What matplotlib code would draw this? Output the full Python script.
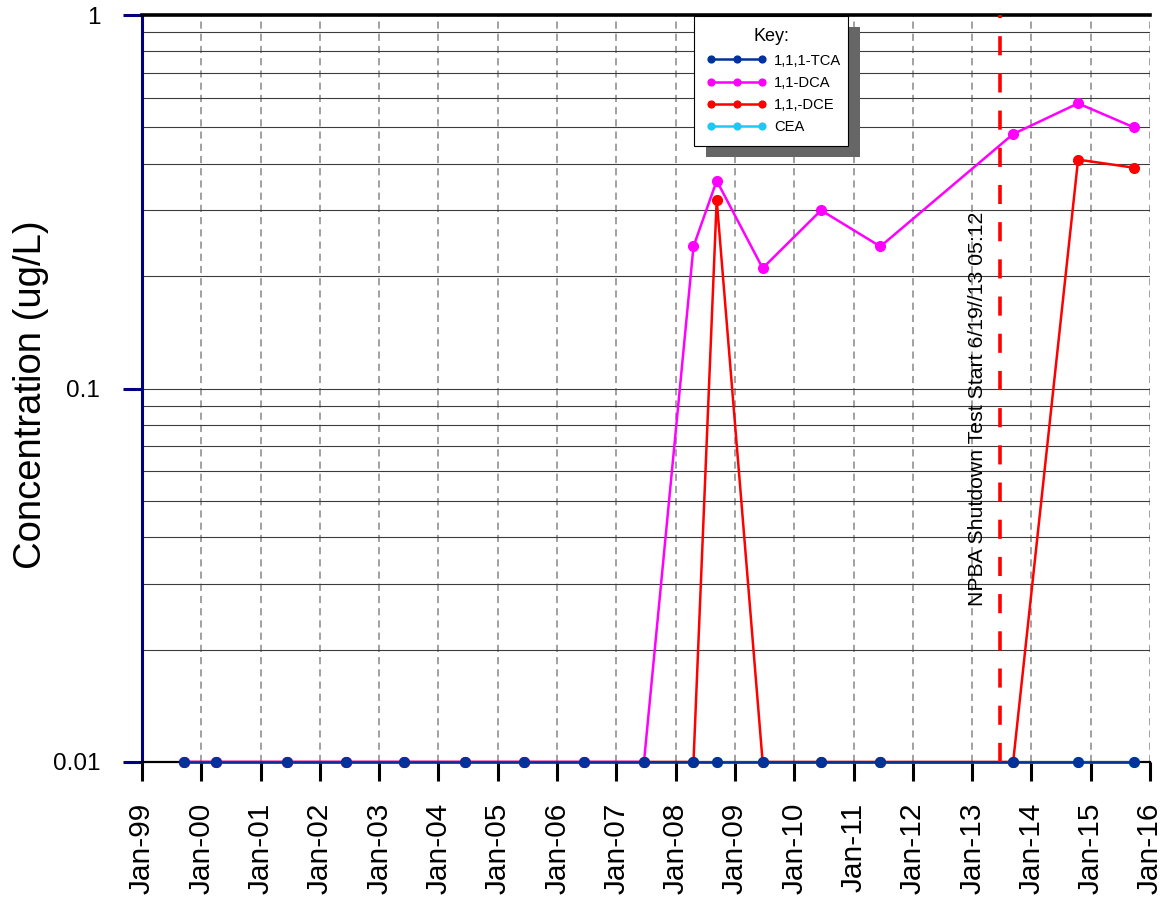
import matplotlib
matplotlib.use('Agg')
import matplotlib.pyplot as plt
import matplotlib.dates as mdates
from matplotlib.patches import Rectangle
from matplotlib.ticker import FixedLocator, NullFormatter
from datetime import datetime

plt.rcParams['font.family'] = ['Liberation Sans', 'DejaVu Sans']

# sample dates
dates = ['1999-09-15', '2000-04-01', '2001-06-15', '2002-06-10', '2003-06-05',
         '2004-06-10', '2005-06-10', '2006-06-15', '2007-06-20', '2008-04-20',
         '2008-09-10', '2009-06-20', '2010-06-15', '2011-06-15', '2013-09-10',
         '2014-10-15', '2015-09-25']

# concentrations in ug/L (0.01 = non-detect floor)
tca = [0.01] * 17
dca = [0.01, 0.01, 0.01, 0.01, 0.01, 0.01, 0.01, 0.01, 0.01, 0.24,
       0.36, 0.21, 0.30, 0.24, 0.48, 0.58, 0.50]
dce = [0.01, 0.01, 0.01, 0.01, 0.01, 0.01, 0.01, 0.01, 0.01, 0.01,
       0.32, 0.01, 0.01, 0.01, 0.01, 0.41, 0.39]
cea_dates = dates[9:]
cea = [0.01] * 8

shutdown_date = '2013-06-19 05:12'
shutdown_label = 'NPBA Shutdown Test Start 6/19//13 05:12'

to_dt = lambda lst: [datetime.fromisoformat(d) for d in lst]

fig = plt.figure(figsize=(11.65, 9.02), dpi=100)
ax = fig.add_axes([142 / 1165, 1 - 762 / 902, 1008 / 1165, 747 / 902])

ax.set_yscale('log')
ax.set_ylim(0.01, 1)
ax.set_xlim(datetime(1999, 1, 1), datetime(2016, 1, 1))

# grid: solid horizontal at every log step, dashed vertical at each year
ax.yaxis.set_major_locator(FixedLocator([0.01, 0.1, 1]))
minor = [m * 10.0 ** e for e in (-2, -1) for m in range(2, 10)]
ax.yaxis.set_minor_locator(FixedLocator(minor))
ax.yaxis.set_minor_formatter(NullFormatter())
ax.set_yticklabels(['0.01', '0.1', '1'])
ax.grid(True, axis='y', which='both', color='#3c3c3c', linewidth=0.8)
ax.tick_params(axis='y', which='minor', length=0)
ax.tick_params(axis='y', which='major', length=14, width=2.2, color='#000080',
               labelsize=17.5, pad=16)

ax.xaxis.set_major_locator(mdates.YearLocator())
ax.xaxis.set_major_formatter(mdates.DateFormatter('%b-%y'))
ax.grid(True, axis='x', color='#888888', linewidth=1.1, linestyle=(0, (4.7, 3.3)))
ax.tick_params(axis='x', length=14, width=2.2, color='black', labelsize=21.5,
               pad=15, labelrotation=90)
ax.set_axisbelow(True)

ax.spines['right'].set_visible(False)
ax.spines['top'].set_linewidth(2.6)
ax.spines['top'].set_color('black')
ax.spines['left'].set_linewidth(2.2)
ax.spines['left'].set_color('#000080')
ax.spines['bottom'].set_linewidth(1.6)
ax.spines['bottom'].set_color('black')

ax.set_ylabel('Concentration (ug/L)', fontsize=27.5)
ax.yaxis.set_label_coords(-0.092, 0.492)

# series
kw = dict(linewidth=1.8, marker='o', markersize=7, clip_on=False)
ax.plot(to_dt(cea_dates), cea, color='#1ec8f5', label='CEA', zorder=3, **kw)
ax.plot(to_dt(dates), dce, color='#ff0000', label='1,1,-DCE', zorder=4, **kw)
ax.plot(to_dt(dates), dca, color='#ff00ff', label='1,1-DCA', zorder=5, **kw)
ax.plot(to_dt(dates), tca, color='#003399', label='1,1,1-TCA', zorder=6, **kw)

# shutdown marker
sd = datetime.fromisoformat(shutdown_date)
ax.axvline(sd, color='#ff0000', linewidth=2.6, linestyle=(0, (5.3, 5.0)), zorder=6)
ax.annotate(shutdown_label, xy=(mdates.date2num(sd), 0.4726),
            xycoords=ax.get_xaxis_transform(),
            xytext=(-9, 0), textcoords='offset points', rotation=90,
            ha='right', va='center', fontsize=15.3)

# legend
handles, labels = ax.get_legend_handles_labels()
order = [3, 2, 1, 0]
leg = ax.legend([handles[i] for i in order], [labels[i] for i in order],
                title='Key:', title_fontsize=13, fontsize=10.6,
                loc='upper left', bbox_to_anchor=(0.5476, 0.9987, 0.1528, 0),
                mode='expand', borderaxespad=0, borderpad=0.85, numpoints=3,
                markerscale=0.7, handlelength=4.1, handletextpad=0.5,
                labelspacing=0.55, fancybox=False, framealpha=1, edgecolor='black')
leg.get_frame().set_linewidth(0.8)
leg.set_zorder(10)

# drop shadow behind legend box
fig.canvas.draw()
bb = leg.get_frame().get_window_extent()
inv = ax.transAxes.inverted()
(x0, y0), (x1, y1) = inv.transform([(bb.x0 + 12, bb.y0 - 11), (bb.x1 + 12, bb.y1 - 11)])
ax.add_patch(Rectangle((x0, y0), x1 - x0, y1 - y0, transform=ax.transAxes,
                       facecolor='#666666', edgecolor='none', clip_on=False, zorder=9))

fig.savefig('out.png', dpi=100)
